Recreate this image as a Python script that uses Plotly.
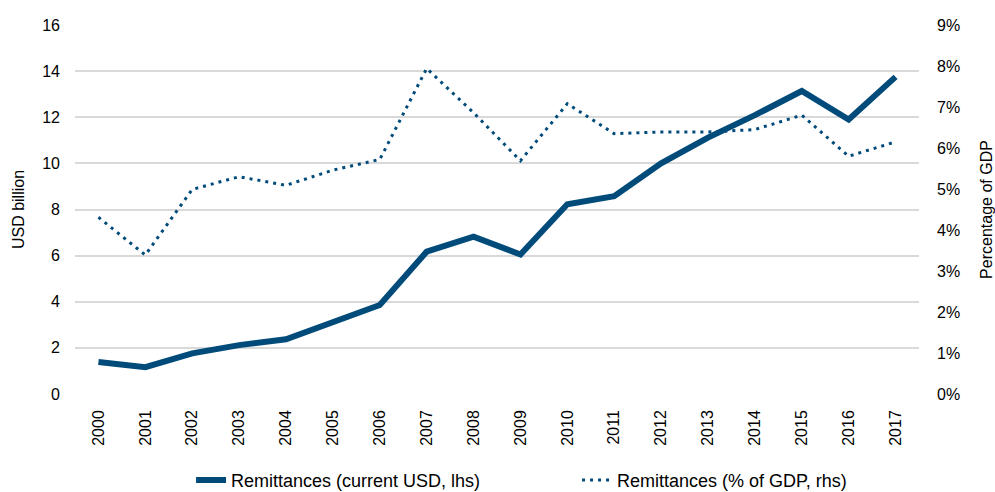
import plotly.graph_objects as go

years = [str(y) for y in range(2000, 2018)]
usd_billion = [1.39, 1.16, 1.76, 2.12, 2.37, 3.13, 3.86, 6.17, 6.82, 6.05,
               8.23, 8.58, 10.0, 11.12, 12.09, 13.14, 11.9, 13.75]
pct_gdp = [0.0431, 0.0339, 0.0499, 0.0530, 0.0509, 0.0546, 0.0572, 0.0794, 0.0686, 0.0569,
           0.0708, 0.0635, 0.0639, 0.0639, 0.0645, 0.0680, 0.0580, 0.0615]

color = "#004b7a"
font = dict(family="Liberation Sans, Arial, sans-serif", size=16, color="#000000")

fig = go.Figure()
fig.add_trace(go.Scatter(x=years, y=usd_billion, mode="lines",
                         name="Remittances (current USD, lhs)",
                         line=dict(color=color, width=6)))
fig.add_trace(go.Scatter(x=years, y=pct_gdp, mode="lines", yaxis="y2",
                         name="Remittances (% of GDP, rhs)",
                         line=dict(color=color, width=3, dash="3px,5px")))

fig.update_layout(
    width=995, height=492,
    margin=dict(l=75, r=76, t=25, b=98),
    paper_bgcolor="white", plot_bgcolor="white",
    font=font,
    showlegend=True,
    legend=dict(orientation="h", x=0.1375, xanchor="left", xref="paper",
                y=0.024, yanchor="middle", yref="container",
                font=dict(size=18), entrywidth=341, entrywidthmode="pixels"),
    xaxis=dict(type="category", range=[-0.5, 17.5], tickangle=-90, showgrid=False,
               showline=False, ticks="", tickfont=dict(size=16), automargin=False,
               ticklabelstandoff=12),
    yaxis=dict(range=[0, 16], dtick=2, showgrid=True, gridcolor="#d9d9d9", gridwidth=1.5,
               zeroline=False, ticks="", tickfont=dict(size=16), automargin=False,
               ticklabelstandoff=14,
               title=dict(text="USD billion", font=dict(size=16), standoff=13)),
    yaxis2=dict(range=[0, 0.09], dtick=0.01, tickformat=".0%", overlaying="y", side="right",
                showgrid=False, zeroline=False, ticks="", tickfont=dict(size=16), automargin=False,
                ticklabelstandoff=17,
                title=dict(text="Percentage of GDP", font=dict(size=16), standoff=23)),
)

fig.write_html("out.html", config={"displayModeBar": False},
               post_script="document.body.style.margin='0px';")
